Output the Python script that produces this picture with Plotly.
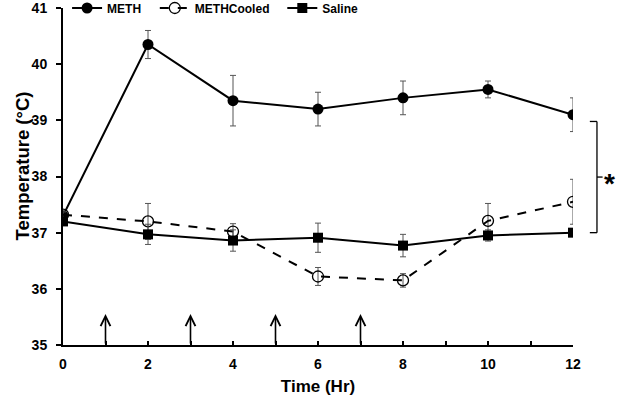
import plotly.graph_objects as go

hours = [0, 2, 4, 6, 8, 10, 12]
meth = [37.3, 40.35, 39.35, 39.2, 39.4, 39.55, 39.1]
meth_err = [0.05, 0.25, 0.45, 0.3, 0.3, 0.15, 0.3]
cooled = [37.32, 37.2, 37.02, 36.22, 36.15, 37.21, 37.55]
cooled_err = [0.05, 0.32, 0.14, 0.16, 0.12, 0.31, 0.4]
saline = [37.2, 36.97, 36.86, 36.91, 36.77, 36.95, 37.0]
saline_err = [0.05, 0.18, 0.19, 0.26, 0.2, 0.1, 0.06]
arrow_times = [1, 3, 5, 7]
arrow_top = 35.55

FONT = "Liberation Sans, Arial, sans-serif"
err_style = dict(type="data", thickness=1, width=3, color="#555555")

fig = go.Figure()
fig.add_trace(go.Scatter(x=hours, y=meth, name="METH", mode="lines+markers", legend="legend",
                         line=dict(color="black", width=2),
                         marker=dict(symbol="circle", size=11, color="black"),
                         error_y=dict(array=meth_err, **err_style)))
fig.add_trace(go.Scatter(x=hours, y=cooled, name="METHCooled", mode="lines+markers", legend="legend2",
                         line=dict(color="black", width=2, dash="dash"),
                         marker=dict(symbol="circle-open", size=11, color="black", line=dict(width=1.3)),
                         error_y=dict(array=cooled_err, **err_style)))
fig.add_trace(go.Scatter(x=hours, y=saline, name="Saline", mode="lines+markers", legend="legend3",
                         line=dict(color="black", width=2),
                         marker=dict(symbol="square", size=10, color="black"),
                         error_y=dict(array=saline_err, **err_style)))

for t in arrow_times:
    fig.add_annotation(x=t, y=arrow_top, ax=t, ay=35, xref="x", yref="y",
                       axref="x", ayref="y", text="", showarrow=True,
                       arrowhead=5, arrowsize=1.2, arrowwidth=1.6, arrowcolor="black")

# significance bracket
fig.add_shape(type="line", xref="paper", yref="y", x0=1.047, x1=1.047, y0=37.0, y1=38.98,
              line=dict(color="black", width=1.3))
fig.add_shape(type="line", xref="paper", yref="y", x0=1.033, x1=1.047, y0=38.98, y1=38.98,
              line=dict(color="black", width=1.3))
fig.add_shape(type="line", xref="paper", yref="y", x0=1.033, x1=1.047, y0=37.0, y1=37.0,
              line=dict(color="black", width=1.3))
fig.add_shape(type="line", xref="paper", yref="y", x0=1.047, x1=1.058, y0=37.99, y1=37.99,
              line=dict(color="black", width=1.3))
fig.add_annotation(x=1.0855, y=37.99, xref="paper", yref="y", text="<b>*</b>",
                   showarrow=False, font=dict(size=28, family=FONT, color="black"), yshift=-6)

# y-axis title (placed slightly above centre, as in the original)
fig.add_annotation(x=-0.104, y=0.531, xref="paper", yref="paper", text="Temperature (°C)",
                   textangle=-90, showarrow=False,
                   font=dict(size=18.5, family=FONT, weight="bold", color="black"))

leg_common = dict(orientation="h", y=1.0, xanchor="left", yanchor="middle",
                  font=dict(size=12, family=FONT, weight="bold"),
                  bgcolor="rgba(255,255,255,0)", itemwidth=30)

fig.update_layout(
    width=622, height=396,
    margin=dict(l=63, r=49, t=8, b=51, autoexpand=False),
    plot_bgcolor="white", paper_bgcolor="white",
    font=dict(family=FONT, color="black"),
    showlegend=True,
    legend=dict(x=0.008, **leg_common),
    legend2=dict(x=0.18, **leg_common),
    legend3=dict(x=0.43, **leg_common),
    xaxis=dict(range=[0, 12], tickvals=hours, showline=True, linecolor="black", linewidth=2,
               ticks="inside", ticklen=4, tickwidth=1.5, tickcolor="black",
               minor=dict(dtick=1, ticks="inside", ticklen=4, tickwidth=1.5, tickcolor="black"),
               showgrid=False, zeroline=False, ticklabeloverflow="allow", ticklabelstandoff=5,
               tickfont=dict(size=14, family=FONT, weight="bold"),
               title=dict(text="Time (Hr)", font=dict(size=17, family=FONT, weight="bold"), standoff=9)),
    yaxis=dict(range=[35, 41], dtick=1, showline=True, linecolor="black", linewidth=2,
               ticks="outside", ticklen=5, tickwidth=1.5, tickcolor="black",
               showgrid=False, zeroline=False, ticklabeloverflow="allow", ticklabelstandoff=6,
               tickfont=dict(size=14, family=FONT, weight="bold")),
)

fig.write_html("out.html", config={"displayModeBar": False},
               post_script="document.body.style.margin='0';")
